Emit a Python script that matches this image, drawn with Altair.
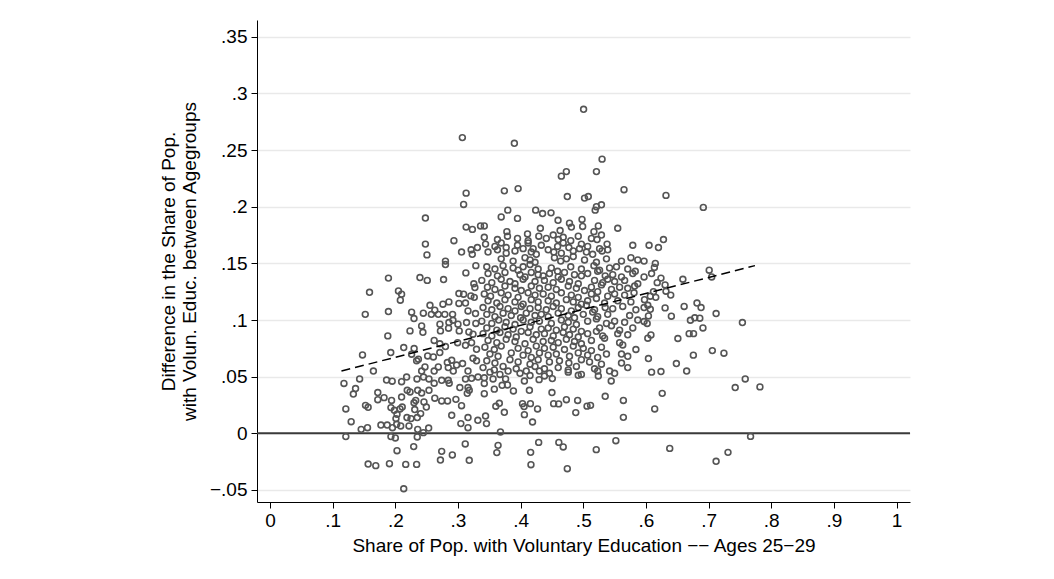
import altair as alt
import pandas as pd

# ---- data (x = share ages 25-29, y = difference) ----
upper_x = [.307,.313,.309,.248,.313,.323,.336,.5005,.390,.530,.473,.465,.521,.374,.396,.565,.4745,.502,.508,.529,.521,.519,.369,.3795,.395,.424,.435,.4485,.4597,.478,.498,.342,.378,.411,.4315,.463,.481,.499,.524,.555,.517,.632,.6916]
upper_y = [.261,.212,.202,.190,.182,.180,.183,.286,.256,.242,.231,.227,.231,.214,.216,.215,.209,.2076,.209,.2017,.200,.197,.191,.197,.1897,.197,.194,.1946,.188,.1855,.1888,.183,.178,.176,.181,.179,.182,.1826,.183,.181,.178,.210,.1994]

right_x = [.628,.605,.620,.615,.6135,.597,.701,.705,.659,.597,.609,.624,.6306,.618,.612,.632,.6396,.6157,.607,.5977,.603,.6306,.661,.6815,.688,.712,.597,.607,.604,.6406,.671,.678,.686,.691,.754,.602,.597,.669,.676,.608,.603,.651,.706,.7245,.6757,.604,.6486,.665,.609,.624,
           .626,.614,.7585,.7425,.782,.767,.638,.731,.712]
right_y = [.171,.166,.164,.150,.1464,.152,.144,.138,.136,.138,.141,.137,.131,.133,.125,.1254,.122,.120,.121,.118,.113,.1107,.112,.115,.111,.1057,.111,.1095,.1036,.1034,.0998,.102,.1016,.093,.0978,.097,.0987,.088,.088,.0868,.084,.0837,.073,.0707,.069,.066,.0616,.055,.054,.0545,
           .0353,.0215,.048,.0404,.041,-.0027,-.0133,-.0168,-.0247]

left_x = [.248,.2505,.2935,.3057,.321,.3228,.331,.280,.280,.3285,.189,.2393,.251,.277,.3126,.3253,.327,.1588,.205,.210,.208,.3015,.309,.3206,.326,.2553,.276,.2855,.3015,.312,.152,.189,.226,.2298,.2447,.2575,.263,.2686,.279,.2914,.316,.328,.2712,.2855,.292,.300,.3137,.3285,.242,.2234,.244,.272,.285,.302,.3174,.324,.188,.2134,.230,.262,.271,.280,.2994,.312,.3217,.3296,.1476,.1927,.226,.2368,.234,.2516,.2607,.271,.283,.290,.2978,.3073,.324,.3296,.2473,.2686,.2845,.165,.242,.262,.2925,.316]
left_y = [.167,.1575,.170,.160,.162,.158,.164,.152,.149,.148,.137,.1375,.135,.1357,.1416,.132,.1287,.1245,.1257,.1228,.1175,.1234,.1228,.1213,.120,.113,.114,.116,.1146,.115,.105,.1075,.1069,.1013,.106,.105,.1087,.105,.105,.105,.108,.1057,.0963,.0978,.0998,.0963,.0978,.097,.0948,.0904,.0892,.0904,.0928,.0904,.0895,.0875,.086,.0757,.0748,.082,.079,.0766,.080,.0777,.080,.0742,.0692,.0713,.0698,.0654,.064,.0683,.0674,.0713,.0625,.0645,.0603,.0616,.0662,.064,.0586,.0586,.058,.055,.055,.055,.055,.055]

lowleft_x = [.118,.143,.1365,.133,.186,.195,.210,.218,.2346,.245,.2537,.274,.2845,.286,.303,.312,.3217,.332,.172,.172,.182,.194,.210,.219,.2235,.2357,.242,.2537,.262,.2325,.2298,.2457,.263,.274,.2834,.2967,.3057,.316,.318,.3148,.121,.1295,.1524,.1566,.193,.1985,.2075,.211,.2027,.201,.2186,.225,.235,.2404,.231,.2495,.290,.3046,.316,.3317,.1455,.1556,.177,.187,.1954,.2022,.2086,.2218,.2357,.2447,.2532,.316,.121,.193,.200,.235,.2293,.2027,.274,.272,.291,.3116,.318,.1566,.1688,.1906,.2166,.234,.2134]
lowleft_y = [.044,.048,.0395,.0347,.047,.046,.0456,.0497,.048,.0497,.048,.0468,.0468,.0442,.0404,.048,.0486,.0497,.036,.0297,.0315,.029,.032,.038,.0365,.038,.0356,.038,.0442,.029,.027,.0277,.031,.0286,.0286,.030,.0244,.0404,.038,.0353,.0215,.0103,.0247,.023,.0227,.0203,.0215,.0232,.0168,.013,.0139,.013,.0139,.0174,.021,.0232,.0159,.0086,.0139,.0115,.0035,.005,.0073,.0073,.005,.008,.0065,.0065,.0035,.0006,.0047,.005,-.0029,-.0029,-.0041,-.0032,-.0117,-.0153,-.0159,-.0236,-.0191,-.0094,-.0238,-.0271,-.0285,-.0268,-.0274,-.0274,-.0489]

lowmid_x = [.342,.356,.376,.342,.358,.3705,.379,.3885,.406,.4295,.4506,.438,.492,.524,.5446,.342,.414,.450,.366,.3604,.374,.403,.4055,.4156,.427,.406,.419,.4527,.4607,.473,.491,.488,.506,.5116,.535,.564,.564,.344,.3455,.3678,.364,.362,.4288,.416,.4165,.461,.468,.4745,.5207,.552]
lowmid_y = [.049,.048,.048,.044,.039,.0424,.0427,.0374,.0462,.0474,.0483,.0506,.0512,.0506,.0462,.035,.038,.036,.0265,.0239,.0186,.0262,.0236,.0262,.0215,.0165,.010,.0262,.026,.0297,.029,.0183,.024,.0247,.0327,.029,.0141,.0153,.0086,.0012,-.0106,-.017,-.008,-.0168,-.0277,-.008,-.012,-.0312,-.0144,-.0065]

core_x = [
 .342,.363,.379,.395,.412,.429,.441,.452,.460,.468,.480,.492,.513,.522,.529,
 .344,.359,.369,.377,.395,.412,.420,.433,.459,.468,.477,.497,.507,.526,.538,.579,
 .348,.363,.377,.391,.404,.417,.425,.444,.453,.465,.484,.494,.505,.515,.530,.539,
 .369,.388,.407,.415,.423,.454,.464,.473,.484,.502,.521,.537,.561,.576,.587,
 .346,.359,.372,.388,.396,.404,.415,.428,.449,.459,.480,.497,.517,.526,.542,.553,.571,.583,
 .348,.363,.375,.399,.407,.417,.428,.436,.446,.460,.470,.486,.497,.507,.523,.535,.547,.561,.579,
 .338,.354,.369,.383,.391,.404,.423,.438,.452,.465,.478,.492,.518,.531,.539,.550,.566,.587,
 .347,.359,.375,.391,.401,.417,.430,.444,.457,.476,.489,.502,.513,.529,.545,.558,.571,.582,
 .342,.352,.369,.380,.396,.412,.423,.436,.449,.465,.481,.492,.513,.523,.539,.550,.566,.581,
 .348,.362,.375,.391,.404,.417,.428,.444,.457,.473,.484,.497,.507,.521,.534,.555,.576,
 .340,.354,.367,.380,.391,.401,.415,.428,.441,.452,.465,.481,.492,.505,.518,.535,.547,.563,.584,
 .346,.359,.372,.385,.400,.409,.423,.433,.444,.460,.476,.486,.500,.515,.523,.539,.574,
 .338,.354,.365,.377,.391,.404,.417,.430,.449,.465,.476,.489,.507,.521,.537,.550,.566,.587,
 .346,.362,.375,.388,.401,.415,.433,.444,.457,.470,.484,.497,.526,.545,.558,.579,
 .340,.354,.367,.380,.393,.412,.425,.438,.452,.468,.478,.492,.507,.521,.531,.555,.571,
 .348,.362,.377,.391,.407,.420,.436,.449,.460,.473,.486,.497,.513,.534,.558,.563,
 .343,.358,.369,.396,.412,.425,.438,.452,.470,.484,.500,.513,.529,.561,.584,
 .351,.364,.385,.404,.417,.430,.444,.457,.478,.492,.507,.523,.537,.571,
 .346,.359,.383,.396,.415,.428,.446,.462,.477,.497,.510,.529,.561,
 .340,.358,.372,.393,.409,.423,.438,.460,.476,.489,.518,.542,.571,
 .351,.367,.380,.399,.415,.430,.446,.476,.497,.523,.550]
core_y = [
 .173,.171,.174,.172,.170,.174,.172,.175,.171,.173,.170,.174,.172,.171,.175,
 .167,.165,.168,.164,.166,.168,.163,.166,.165,.168,.164,.167,.165,.163,.167,.166,
 .160,.162,.159,.161,.163,.160,.158,.162,.160,.159,.161,.163,.160,.158,.161,.162,
 .154,.152,.155,.153,.151,.155,.152,.154,.156,.153,.151,.154,.152,.155,.153,
 .147,.145,.148,.146,.144,.147,.149,.145,.146,.143,.147,.145,.148,.144,.146,.147,.145,.143,
 .141,.139,.142,.140,.138,.142,.140,.139,.141,.138,.142,.140,.139,.141,.143,.139,.140,.138,.141,
 .135,.133,.136,.134,.132,.136,.134,.135,.133,.136,.134,.132,.135,.133,.136,.134,.135,.132,
 .129,.127,.130,.128,.126,.130,.128,.129,.127,.130,.128,.126,.129,.131,.127,.129,.128,.130,
 .123,.121,.124,.122,.120,.124,.122,.123,.121,.124,.122,.120,.123,.125,.121,.123,.122,.124,
 .117,.115,.118,.116,.114,.118,.116,.117,.115,.118,.116,.114,.117,.119,.115,.117,.116,
 .111,.109,.112,.110,.108,.112,.110,.111,.109,.112,.110,.108,.111,.113,.109,.111,.110,.112,.109,
 .105,.103,.106,.104,.102,.106,.104,.105,.103,.106,.104,.102,.105,.107,.103,.105,.104,
 .099,.097,.100,.098,.096,.100,.098,.099,.097,.100,.098,.096,.099,.101,.097,.099,.098,.100,
 .093,.091,.094,.092,.090,.094,.092,.093,.091,.094,.092,.090,.093,.095,.091,.093,
 .088,.086,.089,.087,.085,.089,.087,.088,.086,.089,.087,.085,.088,.090,.086,.088,.087,
 .082,.080,.083,.081,.079,.083,.081,.082,.080,.083,.081,.079,.082,.084,.080,.078,
 .076,.074,.077,.075,.073,.077,.075,.076,.074,.077,.075,.073,.076,.070,.074,
 .070,.068,.071,.069,.067,.071,.069,.070,.068,.071,.069,.067,.070,.068,
 .064,.062,.065,.063,.061,.065,.063,.064,.062,.065,.063,.061,.062,
 .058,.056,.059,.057,.055,.059,.057,.058,.056,.059,.057,.055,.058,
 .054,.052,.055,.053,.051,.055,.053,.054,.052,.055,.053]

fit_x = [0.114, 0.774]
fit_y = [0.055, 0.148]

x_ticks = [0, .1, .2, .3, .4, .5, .6, .7, .8, .9, 1]
y_ticks = [-.05, 0, .05, .1, .15, .2, .25, .3, .35]

xs = upper_x + right_x + left_x + lowleft_x + lowmid_x + core_x
ys = upper_y + right_y + left_y + lowleft_y + lowmid_y + core_y
pts = pd.DataFrame({"x": xs, "y": ys})
fit = pd.DataFrame({"x": fit_x, "y": fit_y})
zero = pd.DataFrame({"y": [0.0]})

FONT = "Liberation Sans"
lab = "datum.value == 0 ? '0' : datum.value == 1 ? '1' : replace(replace(format(datum.value, '.2~f'), '0.', '.'), '-', '\u2212')"

xscale = alt.Scale(domain=[-0.0208, 1.0215], nice=False, zero=False)
yscale = alt.Scale(domain=[-0.0606, 0.3648], nice=False, zero=False)

xaxis = alt.Axis(values=x_ticks, labelExpr=lab, grid=False,
                 title="Share of Pop. with Voluntary Education \u2212\u2212 Ages 25\u221229",
                 titlePadding=6, labelPadding=3)
yaxis = alt.Axis(values=y_ticks, labelExpr=lab, grid=True, gridColor="#e9e9e9", gridWidth=1.6,
                 title=["Difference in the Share of Pop.", "with Volun. Educ. between Agegroups"],
                 titlePadding=10, labelPadding=4)

points = alt.Chart(pts).mark_point(filled=False, size=34, strokeWidth=1.6, color="#555555", opacity=1).encode(
    x=alt.X("x:Q", scale=xscale, axis=xaxis),
    y=alt.Y("y:Q", scale=yscale, axis=yaxis),
)
zline = alt.Chart(zero).mark_rule(color="#3a3a3a", strokeWidth=2).encode(y=alt.Y("y:Q", scale=yscale))
fline = alt.Chart(fit).mark_line(color="black", strokeWidth=1.5, strokeDash=[9, 5]).encode(
    x=alt.X("x:Q", scale=xscale), y=alt.Y("y:Q", scale=yscale))

chart = alt.layer(zline, points, fline).properties(
    width=653, height=482,
    autosize=alt.AutoSizeParams(type="none"),
    padding={"left": 249, "top": 12, "right": 120, "bottom": 60},
    background="white",
).configure_view(stroke=None).configure_axis(
    labelFont=FONT, titleFont=FONT, labelFontSize=19, titleFontSize=19,
    labelColor="black", titleColor="black", titleFontWeight="normal",
    domainColor="black", domainWidth=1, tickColor="black", tickSize=6, tickWidth=1,
    labelFlush=False, labelOverlap=False,
)

chart.save("out.html", embed_options={"renderer": "svg", "actions": False})
